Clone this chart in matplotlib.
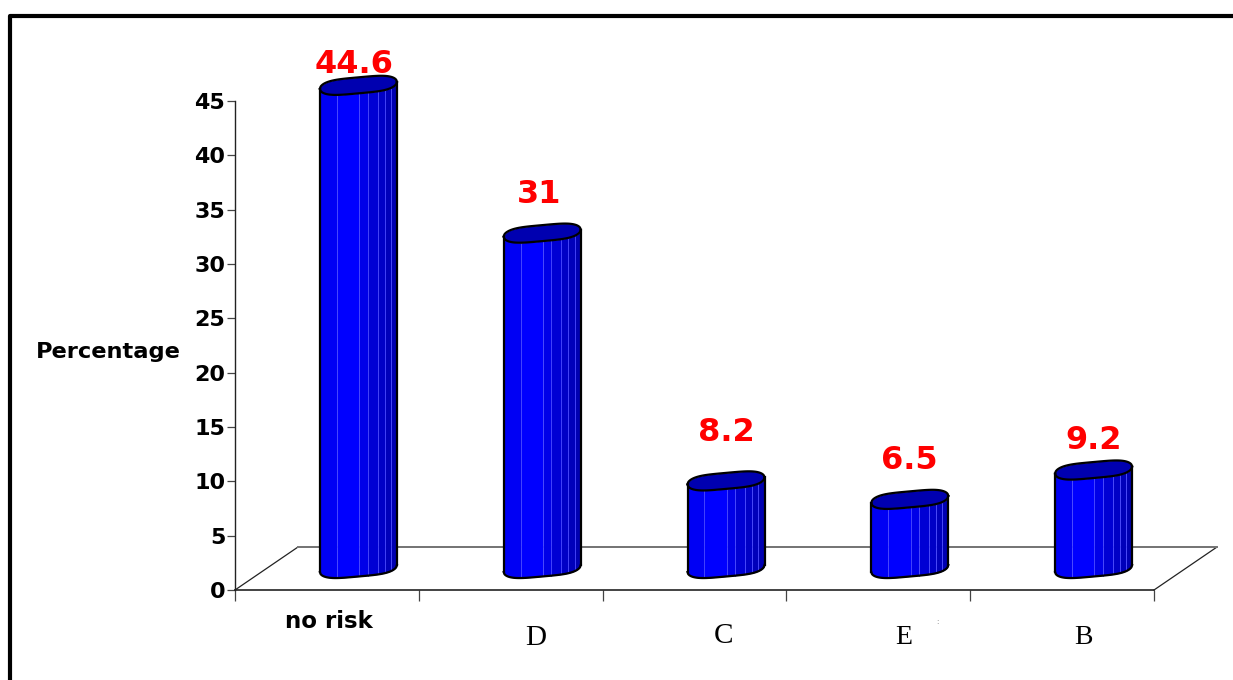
import numpy as np
import matplotlib
matplotlib.use("Agg")
import matplotlib.pyplot as plt
from matplotlib.lines import Line2D

# values
categories = ["no risk", "D", "C", "E", "B"]
percent = [44.6, 31, 8.2, 6.5, 9.2]
value_labels = ["44.6", "31", "8.2", "6.5", "9.2"]
y_ticks = [0, 5, 10, 15, 20, 25, 30, 35, 40, 45]

# label nudges in pixels, the original has them moved by hand
label_dx = [-4, -3, 0, 0, 0]
label_dy = [21, 39, 48, 39, 30]
cat_dx = [2, 25, 29, 25, 21]
cat_dy = [-31, -48, -46, -48, -48]
cat_family = ["DejaVu Sans", "Liberation Serif", "Liberation Serif", "Liberation Serif", "Liberation Serif"]
cat_weight = ["bold", "normal", "normal", "normal", "normal"]
cat_size = [16.5, 21, 21, 20, 20]

# facets of the cylinders, left to right
facet_edges = [-1, -0.56, 0.02, 0.24, 0.5, 0.68, 0.84, 1]
facet_colors = ["#0000f4", "#0000ff", "#0000e8", "#0000d4", "#0000c6", "#0000ba", "#0000b2"]

W, H = 1233, 680
fig = plt.figure(figsize=(W / 100, H / 100), dpi=100)
ax = fig.add_axes([235 / W, (H - 590) / H, 919 / W, 489 / H])
ax.set_xlim(0, 5)
ax.set_ylim(0, 45)

px_x = 5 / 919
px_y = 45 / 489
depth_x = 63 * px_x
depth_y = 43 * px_y
half_w = 38.5 * px_x


def bulge(u):
    return 8 * px_y * np.sqrt(1 - np.abs(u) ** 4)


def tilt(u):
    return 3.5 * px_y * u


# floor of the 3d box
ax.plot([0, depth_x, 5 + depth_x, 5], [0, depth_y, depth_y, 0], color="#222222", lw=0.9, clip_on=False, zorder=1)
ax.plot([depth_x, 5 + depth_x], [depth_y, depth_y], color="#777777", lw=1.4, clip_on=False, zorder=1)

for i, v in enumerate(percent):
    cx = i + 0.5 + depth_x / 2
    base = depth_y / 2
    top = base + v - 1.5 * px_y

    for k in range(len(facet_colors)):
        u = np.linspace(facet_edges[k], facet_edges[k + 1], 30)
        ax.fill_between(cx + half_w * u, base + tilt(u) - bulge(u), top + tilt(u) - bulge(u),
                        color=facet_colors[k], lw=0, zorder=3, clip_on=False)
    for e in facet_edges[1:-1]:
        ax.plot([cx + half_w * e] * 2, [base + tilt(e) - bulge(e), top + tilt(e) - bulge(e)],
                color="#4a4aff", lw=0.6, zorder=4, clip_on=False)

    u = np.linspace(-1, 1, 120)
    xs = cx + half_w * u
    ax.fill_between(xs, top + tilt(u) - bulge(u), top + tilt(u) + bulge(u), color="#0000b0", lw=0, zorder=5, clip_on=False)
    ax.plot(xs, top + tilt(u) - bulge(u), color="black", lw=1.6, zorder=6, clip_on=False)
    ax.plot(xs, top + tilt(u) + bulge(u), color="black", lw=1.6, zorder=6, clip_on=False)
    ax.plot(xs, base + tilt(u) - bulge(u), color="black", lw=1.6, zorder=6, clip_on=False)
    ax.plot([cx - half_w, cx - half_w], [base + tilt(-1), top + tilt(-1)], color="black", lw=1.6, zorder=6, clip_on=False)
    ax.plot([cx + half_w, cx + half_w], [base + tilt(1), top + tilt(1)], color="black", lw=1.6, zorder=6, clip_on=False)

    ax.annotate(value_labels[i], (cx, top), xytext=(label_dx[i], label_dy[i]), textcoords="offset pixels",
                ha="center", va="center", color="#ff0000", fontsize=23, fontweight="bold",
                family="DejaVu Sans", zorder=7, annotation_clip=False)

    ax.annotate(categories[i], (i + 0.5, 0), xytext=(cat_dx[i], cat_dy[i]), textcoords="offset pixels",
                ha="center", va="center", family=cat_family[i], fontweight=cat_weight[i], fontsize=cat_size[i],
                color="black", annotation_clip=False)

for s in ["top", "right"]:
    ax.spines[s].set_visible(False)
ax.spines["left"].set_linewidth(1)
ax.spines["left"].set_color("#222222")
ax.spines["bottom"].set_linewidth(1.2)
ax.spines["bottom"].set_color("#222222")

ax.set_yticks(y_ticks)
ax.set_xticks(range(6))
ax.set_xticklabels([])
ax.tick_params(axis="y", length=6, width=0.9, color="#444444", pad=1)
ax.tick_params(axis="x", length=8, width=0.9, color="#444444")
for t in ax.get_yticklabels():
    t.set_fontfamily("DejaVu Sans")
    t.set_fontweight("bold")
    t.set_fontsize(16)

fig.text(108 / W, (H - 352) / H, "Percentage", ha="center", va="center", family="DejaVu Sans",
         fontweight="bold", fontsize=16.2)
fig.text(937 / W, (H - 622) / H, ":", ha="center", va="center", fontsize=5, color="#777777")

# outer frame, runs off the right and bottom of the picture
fig.add_artist(Line2D([10 / W, 10 / W, 1], [0, (H - 16) / H, (H - 16) / H], color="black", lw=3,
                      transform=fig.transFigure))

fig.savefig("out.png", dpi=100)
